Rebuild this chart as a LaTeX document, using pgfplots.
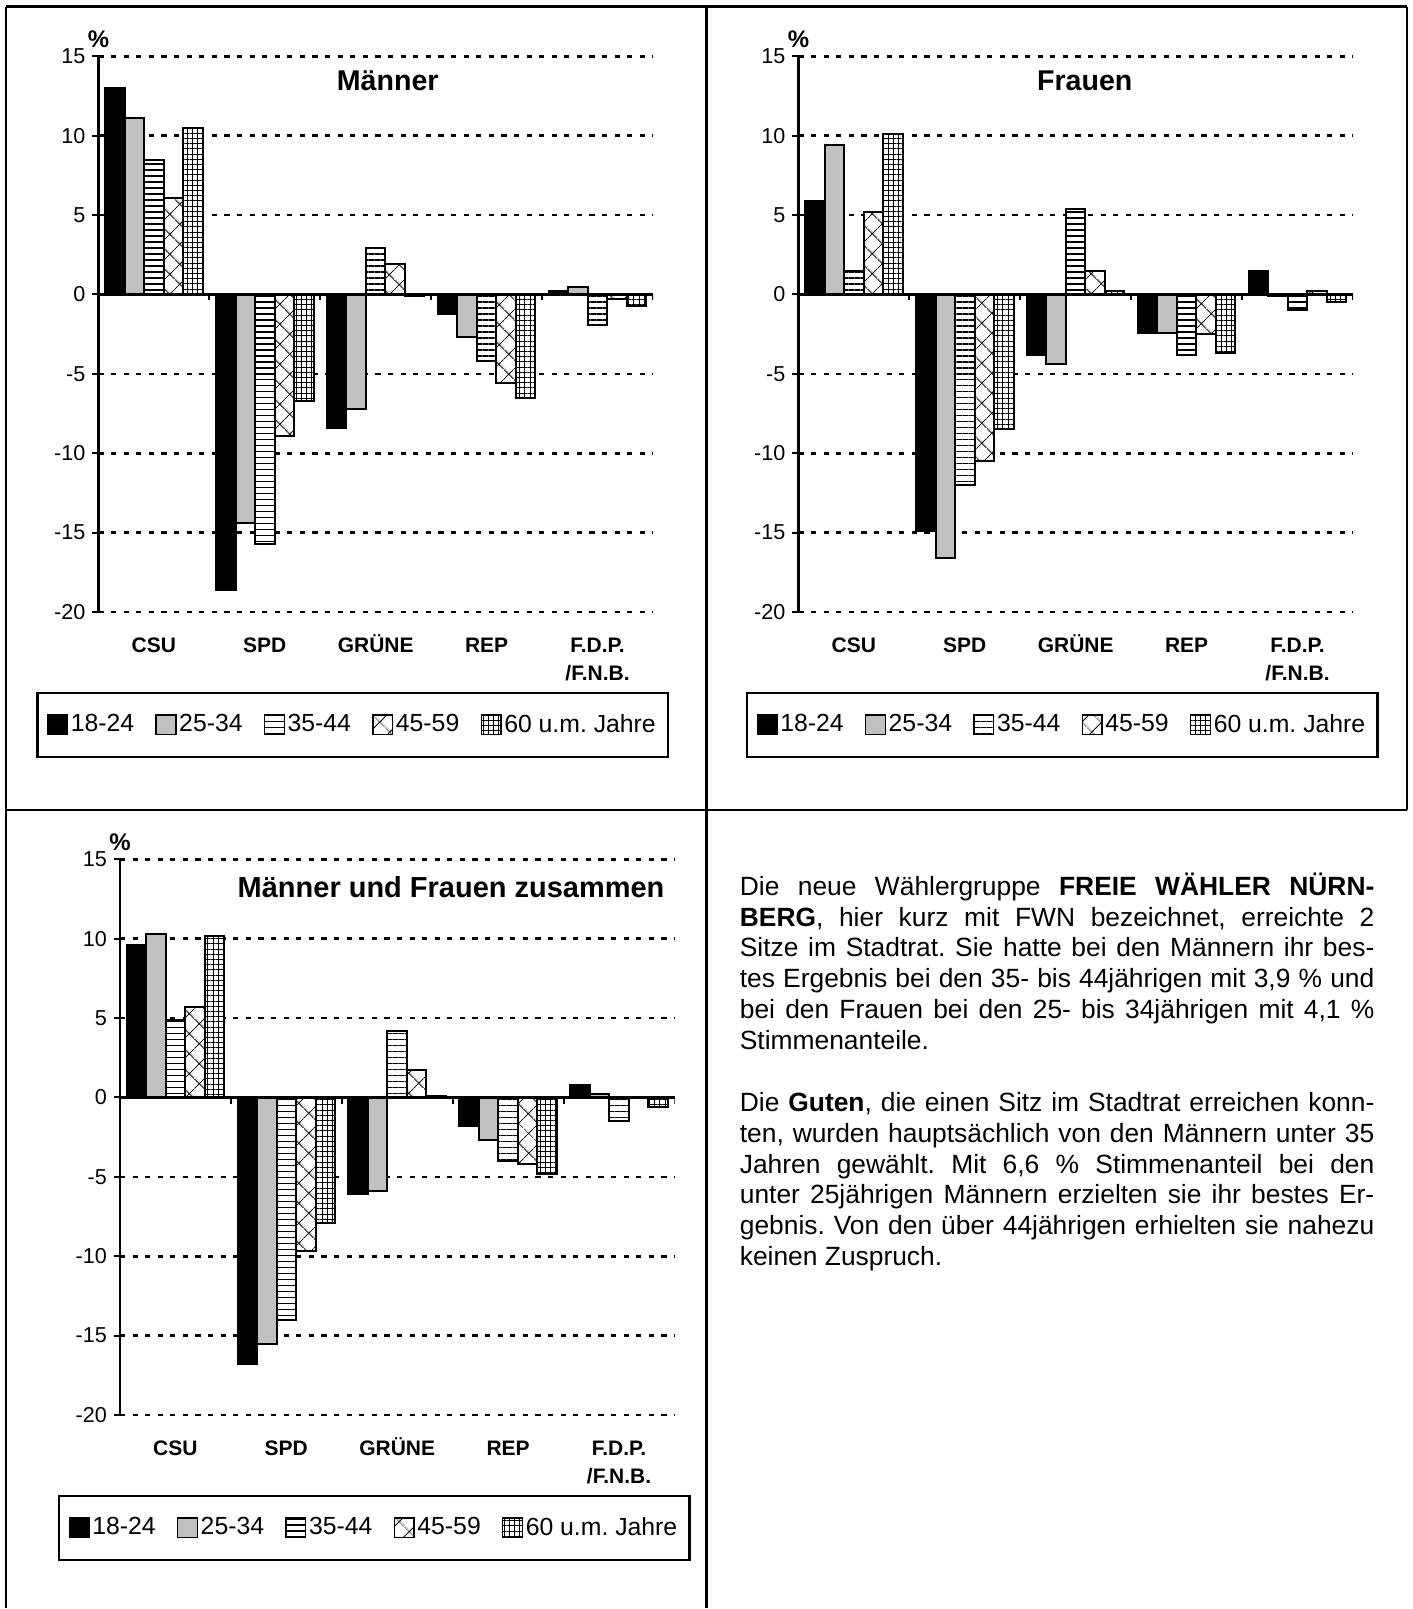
\documentclass[border=0pt]{standalone}
\usepackage{fontspec}
\setmainfont{Liberation Sans}
\usepackage{pgfplots}
\usepackage{pgfplotstable}
\pgfplotsset{compat=1.18}
\usetikzlibrary{patterns.meta}

\definecolor{barGray}{RGB}{192,192,192}

\pgfplotstableread{
x a b c d e
0 13.0 11.1 8.5 6.1 10.5
1 -18.6 -14.4 -15.7 -8.9 -6.7
2 -8.4 -7.2 2.9 1.9 -0.1
3 -1.2 -2.7 -4.2 -5.6 -6.5
4 0.2 0.5 -1.9 -0.3 -0.7
}\maenner

\pgfplotstableread{
x a b c d e
0 5.9 9.4 1.5 5.2 10.1
1 -14.9 -16.6 -12.0 -10.5 -8.5
2 -3.8 -4.4 5.4 1.5 0.2
3 -2.4 -2.4 -3.8 -2.5 -3.7
4 1.5 -0.1 -1.0 0.2 -0.5
}\frauen

\pgfplotstableread{
x a b c d e
0 9.6 10.3 4.9 5.7 10.2
1 -16.8 -15.5 -14.0 -9.7 -7.9
2 -6.1 -5.9 4.2 1.7 0.1
3 -1.8 -2.7 -4.0 -4.2 -4.8
4 0.8 0.2 -1.5 0.0 -0.6
}\zusammen

\pgfplotsset{
  panel/.style={
    width=277.5pt, height=278pt, scale only axis,
    xmin=-0.5, xmax=4.5, ymin=-20, ymax=15,
    axis y line*=left, axis x line*=bottom,
    x axis line style={draw=none},
    xtick={0,1,2,3,4},
    xticklabels={\vphantom{Ü}CSU,\vphantom{Ü}SPD,GRÜNE,\vphantom{Ü}REP,{\vphantom{Ü}F.D.P.\\/F.N.B.}},
    xtick style={draw=none},
    xticklabel style={font=\fontsize{10.5}{14}\selectfont\bfseries, align=center, anchor=north, yshift=-5pt},
    ytick={-20,-15,...,15},
    yticklabel style={font=\fontsize{10.8}{12}\selectfont},
    /pgf/number format/assume math mode=true,
    y axis line style={line width=1.1pt},
    ytick style={line width=1pt, black},
    tick align=outside, major tick length=3pt,
    ymajorgrids,
    grid style={black, line width=1.3pt, dash pattern=on 2.6pt off 3.7pt},
    ylabel={\%},
    every axis y label/.style={at={(rel axis cs:0,1)}, anchor=south, yshift=1pt, font=\fontsize{12}{14}\selectfont\bfseries},
    legend columns=5,
    legend image code/.code={\draw[##1, line width=0.7pt] (0pt,-4.9pt) rectangle (9.9pt,4.9pt);},
    legend style={draw=black, line width=1.1pt, font=\fontsize{12.4}{14}\selectfont,
      /tikz/every even column/.append style={column sep=9.3pt},
      nodes={inner xsep=1.3pt, inner ysep=1pt},
      inner xsep=4.8pt, inner ysep=9.8pt},
    legend cell align=left,
  },
  b1/.style={ybar, bar width=0.1757, bar shift=-0.3514, fill=black, draw=black, line width=1pt},
  b2/.style={ybar, bar width=0.1757, bar shift=-0.1757, fill=barGray, draw=black, line width=1pt},
  b3/.style={ybar, bar width=0.1757, bar shift=0, fill=white, draw=black, line width=1pt,
     postaction={pattern={Lines[angle=0, distance=3pt, line width=0.6pt]}, pattern color=black}},
  b4/.style={ybar, bar width=0.1757, bar shift=0.1757, fill=white, draw=black, line width=1pt,
     postaction={pattern={Hatch[angle=45, distance=6.9pt, line width=0.5pt]}, pattern color=black}},
  b5/.style={ybar, bar width=0.1757, bar shift=0.3514, fill=white, draw=black, line width=1pt,
     postaction={pattern={Hatch[angle=0, distance=2.6pt, line width=0.5pt]}, pattern color=black}},
}

\newcommand{\bars}[1]{%
  \addplot[b1] table[x=x,y=a]{#1};
  \addplot[b2] table[x=x,y=b]{#1};
  \addplot[b3] table[x=x,y=c]{#1};
  \addplot[b4] table[x=x,y=d]{#1};
  \addplot[b5] table[x=x,y=e]{#1};
  \addplot[black, line width=1.2pt, sharp plot, mark=none, forget plot] coordinates {(-0.5,0) (4.5,0)};
  \addplot[black, line width=1pt, ycomb, mark=none, forget plot] coordinates {(0.5,-0.38) (1.5,-0.38) (2.5,-0.38) (3.5,-0.38) (4.5,-0.38)};
  \legend{18-24,25-34,35-44,45-59,60 u.m. Jahre}
}

\begin{document}
\frenchspacing
\begin{tikzpicture}
\path (0pt,0pt) rectangle (707pt,-804.5pt);
% table borders
\draw[line width=1.2pt] (3pt,-3.3pt) -- (704pt,-3.3pt);
\draw[line width=1.2pt] (3pt,-3.3pt) -- (3pt,-804.5pt);
\draw[line width=1.2pt] (353.5pt,-3.3pt) -- (353.5pt,-804.5pt);
\draw[line width=1.2pt] (704pt,-3.3pt) -- (704pt,-405.3pt);
\draw[line width=1.2pt] (3pt,-405.3pt) -- (704pt,-405.3pt);

\begin{axis}[panel, at={(49.25pt,-28.2pt)}, anchor=north west,
  title={Männer},
  title style={at={(0.5216,0.9576)}, anchor=center, yshift=-6.6pt, font=\fontsize{14.3}{16}\selectfont\bfseries},
  legend style={at={(0.4586,-0.203)}, anchor=center}]
\bars{\maenner}
\end{axis}

\begin{axis}[panel, at={(399.5pt,-28.2pt)}, anchor=north west,
  title={Frauen},
  title style={at={(0.5164,0.9576)}, anchor=center, yshift=-6.6pt, font=\fontsize{14.3}{16}\selectfont\bfseries},
  legend style={at={(0.4757,-0.203)}, anchor=center}]
\bars{\frauen}
\end{axis}

\begin{axis}[panel, at={(60pt,-430pt)}, anchor=north west,
  title={Männer und Frauen zusammen},
  title style={at={(0.9946,0.9515)}, anchor=east, yshift=-6.2pt, font=\fontsize{14.5}{16}\selectfont\bfseries},
  legend style={at={(0.4586,-0.203)}, anchor=center}]
\bars{\zusammen}
\end{axis}

\node[anchor=base west, inner sep=0pt] at (370pt,-447.9pt) {\parbox[t]{317.5pt}{\fontsize{13.2}{15.45}\selectfont\frenchspacing
\makebox[\linewidth][s]{Die neue Wählergruppe \textbf{FREIE WÄHLER NÜRN-}}\\
\makebox[\linewidth][s]{\textbf{BERG}, hier kurz mit FWN bezeichnet, erreichte 2}\\
\makebox[\linewidth][s]{Sitze im Stadtrat. Sie hatte bei den Männern ihr bes-}\\
\makebox[\linewidth][s]{tes Ergebnis bei den 35- bis 44jährigen mit 3,9 \% und}\\
\makebox[\linewidth][s]{bei den Frauen bei den 25- bis 34jährigen mit 4,1 \%}\\
Stimmenanteile.\\[15.45pt]
\makebox[\linewidth][s]{Die \textbf{Guten}, die einen Sitz im Stadtrat erreichen konn-}\\
\makebox[\linewidth][s]{ten, wurden hauptsächlich von den Männern unter 35}\\
\makebox[\linewidth][s]{Jahren gewählt. Mit 6,6 \% Stimmenanteil bei den}\\
\makebox[\linewidth][s]{unter 25jährigen Männern erzielten sie ihr bestes Er-}\\
\makebox[\linewidth][s]{gebnis. Von den über 44jährigen erhielten sie nahezu}\\
keinen Zuspruch.}};
\end{tikzpicture}
\end{document}
